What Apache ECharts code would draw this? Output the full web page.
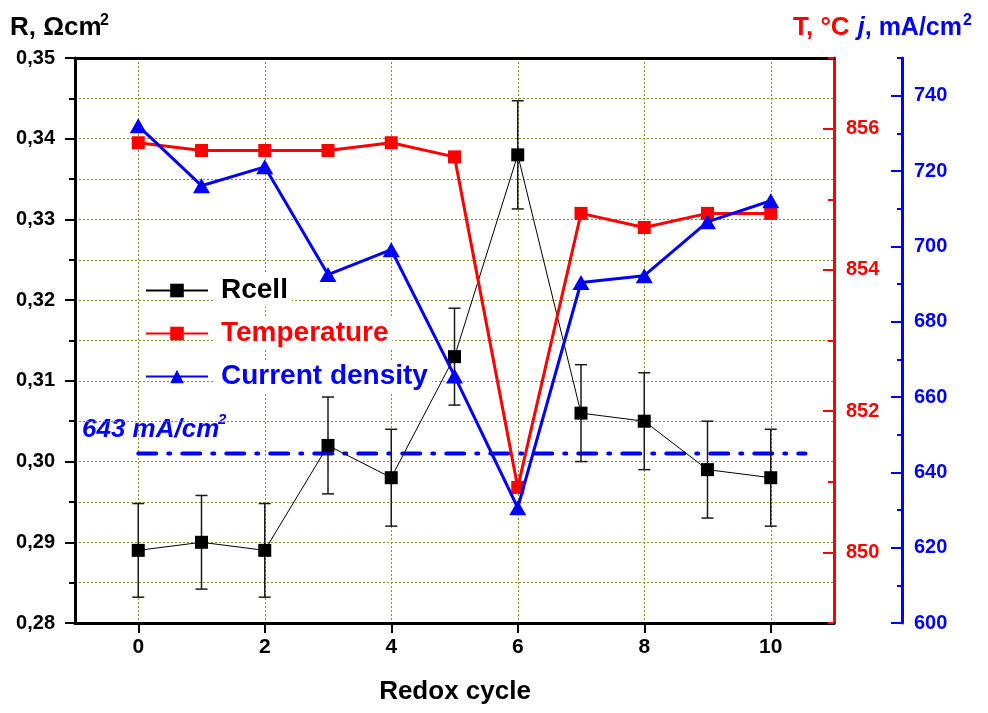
<!DOCTYPE html>
<html>
<head>
<meta charset="utf-8">
<script src="https://cdn.jsdelivr.net/npm/echarts@6/dist/echarts.min.js"></script>
<style>
  html, body { margin: 0; padding: 0; background: #fff; }
  #chart { width: 988px; height: 713px; }
</style>
</head>
<body>
<div id="chart"></div>
<script>
// values
const cycles = [0, 1, 2, 3, 4, 5, 6, 7, 8, 9, 10]
const rcell = [0.289, 0.290, 0.289, 0.302, 0.298, 0.313, 0.338, 0.306, 0.305, 0.299, 0.298]
const rcellErr = [0.0058, 0.0058, 0.0058, 0.006, 0.006, 0.006, 0.0067, 0.006, 0.006, 0.006, 0.006]
const temperature = [855.8, 855.69, 855.69, 855.69, 855.8, 855.6, 850.92, 854.8, 854.6, 854.8, 854.8]
const currentDensity = [732.0, 716.1, 721.1, 692.5, 699.1, 665.6, 630.6, 690.4, 692.2, 706.5, 712.1]
const refLevel = 645 // where the "643 mA/cm2" line is drawn
const refSpan = [0, 10.55]
const xTicks = [0, 2, 4, 6, 8, 10]
const tTicks = [850, 852, 854, 856]
const jTicks = [600, 620, 640, 660, 680, 700, 720, 740]

const FONT = 'Liberation Sans, Arial, sans-serif'
const RED = '#ff0000'
const BLUE = '#0000ff'
const gridLine = { color: '#8c8c2a', width: 1, type: [2, 2] }

const chart = echarts.init(document.getElementById('chart'))

const option = {
  animation: false,
  backgroundColor: '#fff',
  grid: { left: 75, right: 154, top: 58, bottom: 90, containLabel: false, outerBoundsMode: 'none' },
  legend: {
    orient: 'vertical',
    left: 140,
    top: 269,
    itemWidth: 62,
    itemHeight: 17,
    itemGap: 10,
    selectedMode: false,
    data: [
      { name: 'Rcell', textStyle: { color: '#000' } },
      { name: 'Temperature', textStyle: { color: RED } },
      { name: 'Current density', textStyle: { color: BLUE } }
    ],
    textStyle: {
      fontFamily: FONT,
      fontSize: 28,
      fontWeight: 'bold',
      lineHeight: 31,
      backgroundColor: '#fff',
      padding: [1, 4, 1, 8]
    }
  },
  xAxis: [
    {
      type: 'value',
      min: -1,
      max: 11,
      interval: 1,
      position: 'bottom',
      axisLine: { onZero: false, lineStyle: { color: '#000', width: 3 } },
      axisTick: { customValues: xTicks, length: 10, lineStyle: { color: '#000', width: 2 } },
      axisLabel: {
        customValues: xTicks,
        formatter: v => (v >= 0 && v <= 10 && v % 2 === 0) ? String(v) : '',
        fontFamily: FONT, fontSize: 21, fontWeight: 'bold', color: '#000', margin: 14
      },
      splitLine: { show: true, lineStyle: gridLine }
    },
    {
      type: 'value',
      min: -1,
      max: 11,
      position: 'top',
      axisLine: { show: true, onZero: false, lineStyle: { color: '#000', width: 3 } },
      axisTick: { show: false },
      axisLabel: { show: false },
      splitLine: { show: false }
    }
  ],
  yAxis: [
    {
      type: 'value',
      position: 'left',
      min: 0.28,
      max: 0.35,
      interval: 0.01,
      axisLine: { show: true, onZero: false, lineStyle: { color: '#000', width: 3 } },
      axisTick: { length: 10, lineStyle: { color: '#000', width: 2 } },
      minorTick: { show: true, splitNumber: 2, length: 6, lineStyle: { color: '#000', width: 2 } },
      axisLabel: {
        formatter: v => v.toFixed(2).replace('.', ','),
        fontFamily: FONT, fontSize: 20, fontWeight: 'bold', color: '#000', margin: 20
      },
      splitLine: { show: true, lineStyle: gridLine },
      minorSplitLine: { show: true, lineStyle: gridLine }
    },
    {
      type: 'value',
      position: 'right',
      min: 849,
      max: 857,
      interval: 1,
      axisLine: { show: true, onZero: false, lineStyle: { color: RED, width: 3 } },
      axisTick: { customValues: tTicks, inside: true, length: 11, lineStyle: { color: RED, width: 2 } },
      axisLabel: {
        customValues: tTicks,
        formatter: v => v % 2 === 0 ? String(v) : '',
        fontFamily: FONT, fontSize: 20, fontWeight: 'bold', color: RED, margin: 12
      },
      splitLine: { show: false }
    },
    {
      type: 'value',
      position: 'right',
      offset: 68,
      min: 600,
      max: 750,
      interval: 10,
      axisLine: { show: true, onZero: false, lineStyle: { color: BLUE, width: 3 } },
      axisTick: { customValues: jTicks, inside: true, length: 11, lineStyle: { color: BLUE, width: 2 } },
      axisLabel: {
        customValues: jTicks,
        formatter: v => (v % 20 === 0 && v < 750) ? String(v) : '',
        fontFamily: FONT, fontSize: 20, fontWeight: 'bold', color: BLUE, margin: 12
      },
      splitLine: { show: false }
    },
    {
      // short red ticks
      type: 'value',
      position: 'right',
      min: 849,
      max: 857,
      interval: 1,
      axisLine: { show: false, onZero: false },
      axisTick: { inside: true, length: 6, lineStyle: { color: RED, width: 2 } },
      axisLabel: { show: false },
      splitLine: { show: false }
    },
    {
      // short blue ticks
      type: 'value',
      position: 'right',
      offset: 68,
      min: 600,
      max: 750,
      interval: 10,
      axisLine: { show: false, onZero: false },
      axisTick: { inside: true, length: 5, lineStyle: { color: BLUE, width: 2 } },
      axisLabel: { show: false },
      splitLine: { show: false }
    }
  ],
  series: [
    {
      name: 'errors',
      type: 'custom',
      xAxisIndex: 0,
      yAxisIndex: 0,
      z: 3,
      encode: { x: 0, y: [1, 2] },
      data: cycles.map((c, i) => [c, rcell[i] - rcellErr[i], rcell[i] + rcellErr[i]]),
      renderItem: (params, api) => {
        const x = api.value(0)
        const lo = api.coord([x, api.value(1)])
        const hi = api.coord([x, api.value(2)])
        const hw = 6
        const st = { stroke: '#1a1a1a', lineWidth: 1.5 }
        return {
          type: 'group',
          children: [
            { type: 'line', shape: { x1: lo[0], y1: lo[1], x2: hi[0], y2: hi[1] }, style: st },
            { type: 'line', shape: { x1: lo[0] - hw, y1: lo[1], x2: lo[0] + hw, y2: lo[1] }, style: st },
            { type: 'line', shape: { x1: hi[0] - hw, y1: hi[1], x2: hi[0] + hw, y2: hi[1] }, style: st }
          ]
        }
      }
    },
    {
      name: 'Rcell',
      type: 'line',
      xAxisIndex: 0,
      yAxisIndex: 0,
      z: 4,
      data: cycles.map((c, i) => [c, rcell[i]]),
      symbol: 'rect',
      symbolSize: 13,
      lineStyle: { color: '#000', width: 1 },
      itemStyle: { color: '#000' }
    },
    {
      name: 'Temperature',
      type: 'line',
      xAxisIndex: 0,
      yAxisIndex: 1,
      z: 5,
      data: cycles.map((c, i) => [c, temperature[i]]),
      symbol: 'rect',
      symbolSize: 13,
      lineStyle: { color: RED, width: 3 },
      itemStyle: { color: RED }
    },
    {
      name: 'Current density',
      type: 'line',
      xAxisIndex: 0,
      yAxisIndex: 2,
      z: 6,
      data: cycles.map((c, i) => [c, currentDensity[i]]),
      symbol: 'triangle',
      symbolSize: [17, 15],
      lineStyle: { color: BLUE, width: 3 },
      itemStyle: { color: BLUE }
    },
    {
      name: 'ref',
      type: 'line',
      xAxisIndex: 0,
      yAxisIndex: 2,
      z: 2,
      data: refSpan.map(x => [x, refLevel]),
      symbol: 'none',
      silent: true,
      lineStyle: { color: BLUE, width: 4, type: [18, 12, 2, 12], cap: 'round' }
    }
  ],
  graphic: [
    { type: 'text', x: 10, y: 28, style: { text: 'R, Ωcm', font: 'bold 26px ' + FONT, fill: '#000', align: 'left', verticalAlign: 'middle' } },
    { type: 'text', x: 100, y: 21, style: { text: '2', font: 'bold 16px ' + FONT, fill: '#000', align: 'left', verticalAlign: 'middle' } },
    { type: 'text', x: 793, y: 28, style: { text: 'T, °C', font: 'bold 26px ' + FONT, fill: RED, align: 'left', verticalAlign: 'middle' } },
    {
      type: 'text', x: 962, y: 28,
      style: {
        text: '{i|j}, mA/cm',
        font: 'bold 25px ' + FONT,
        fill: BLUE,
        align: 'right',
        verticalAlign: 'middle',
        rich: { i: { fontStyle: 'italic', fontWeight: 'bold', fontSize: 25, fontFamily: FONT, fill: BLUE } }
      }
    },
    { type: 'text', x: 963, y: 21, style: { text: '2', font: 'bold 16px ' + FONT, fill: BLUE, align: 'left', verticalAlign: 'middle' } },
    { type: 'text', x: 82, y: 430, style: { text: '643 mA/cm', font: 'italic bold 26px ' + FONT, fill: BLUE, align: 'left', verticalAlign: 'middle' } },
    { type: 'text', x: 218, y: 420, style: { text: '2', font: 'italic bold 15px ' + FONT, fill: BLUE, align: 'left', verticalAlign: 'middle' } },
    { type: 'text', x: 455, y: 692, style: { text: 'Redox cycle', font: 'bold 26px ' + FONT, fill: '#000', align: 'center', verticalAlign: 'middle' } }
  ]
}

chart.setOption(option)
</script>
</body>
</html>
